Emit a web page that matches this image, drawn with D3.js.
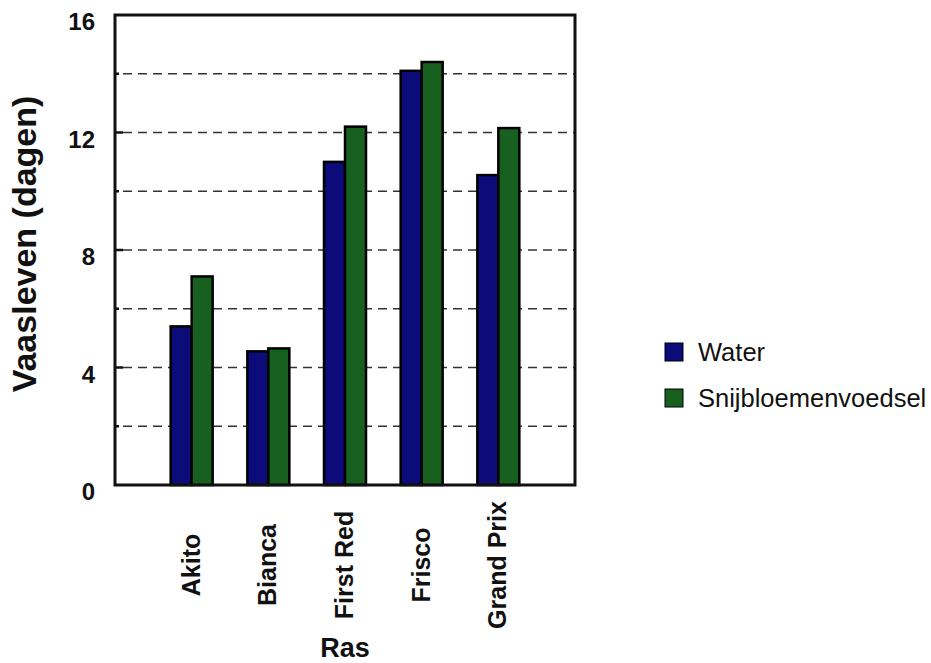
<!DOCTYPE html>
<html>
<head>
<meta charset="utf-8">
<script src="https://cdn.jsdelivr.net/npm/d3@7"></script>
<style>
  html, body { margin: 0; padding: 0; background: #fff; overflow: hidden; }
  svg { display: block; }
  text { font-family: "Liberation Sans", Arial, sans-serif; fill: #111; }
</style>
</head>
<body>
<div id="chart"></div>
<script>
// Data
const categories = ['Akito', 'Bianca', 'First Red', 'Frisco', 'Grand Prix'];
const seriesNames = ['Water', 'Snijbloemenvoedsel'];
const water = [5.4, 4.55, 11.0, 14.1, 10.55];
const voedsel = [7.1, 4.65, 12.2, 14.4, 12.15];
const yTickLabels = [0, 4, 8, 12, 16];
const gridValues = [2, 4, 6, 8, 10, 12, 14];

const colors = ['#0b0b7a', '#17601f'];

// Dimensions
const width = 931;
const height = 663;
const margin = { top: 15, right: 356, bottom: 178, left: 115 };
const innerWidth = width - margin.left - margin.right;
const innerHeight = height - margin.top - margin.bottom;

const svg = d3.select('#chart')
    .append('svg')
    .attr('width', width)
    .attr('height', height);

const chart = svg.append('g')
    .attr('transform', `translate(${margin.left}, ${margin.top})`);

// Scales
const xScale = d3.scalePoint()
    .domain(categories)
    .range([0, innerWidth])
    .padding(1);

const yScale = d3.scaleLinear()
    .domain([0, 16])
    .range([innerHeight, 0]);

const barWidth = 21;

// Dashed gridlines
chart.selectAll('.grid')
    .data(gridValues)
    .enter()
    .append('line')
    .attr('class', 'grid')
    .attr('x1', 8)
    .attr('x2', innerWidth)
    .attr('y1', d => yScale(d))
    .attr('y2', d => yScale(d))
    .attr('stroke', '#333')
    .attr('stroke-width', 1.5)
    .attr('stroke-dasharray', '9,6');

// Small inner tick marks
chart.selectAll('.tick-mark')
    .data(gridValues)
    .enter()
    .append('line')
    .attr('class', 'tick-mark')
    .attr('x1', 0)
    .attr('x2', d => d % 4 === 0 ? 8 : 4)
    .attr('y1', d => yScale(d))
    .attr('y2', d => yScale(d))
    .attr('stroke', '#111')
    .attr('stroke-width', 2.5);

// Bars
const rows = categories.map((c, i) => ({ cat: c, values: [water[i], voedsel[i]] }));

const groups = chart.selectAll('.group')
    .data(rows)
    .enter()
    .append('g')
    .attr('class', 'group');

groups.selectAll('rect')
    .data(d => d.values.map((v, j) => ({ cat: d.cat, v: v, j: j })))
    .enter()
    .append('rect')
    .attr('x', d => xScale(d.cat) - barWidth + d.j * barWidth)
    .attr('y', d => yScale(d.v))
    .attr('width', barWidth)
    .attr('height', d => innerHeight - yScale(d.v))
    .attr('fill', d => colors[d.j])
    .attr('stroke', '#000')
    .attr('stroke-width', 2.5);

// Frame
chart.append('rect')
    .attr('x', 0)
    .attr('y', 0)
    .attr('width', innerWidth)
    .attr('height', innerHeight)
    .attr('fill', 'none')
    .attr('stroke', '#111')
    .attr('stroke-width', 3);

// Y tick labels
chart.selectAll('.y-label-tick')
    .data(yTickLabels)
    .enter()
    .append('text')
    .attr('class', 'y-label-tick')
    .attr('x', -20)
    .attr('y', d => yScale(d) + 15)
    .style('text-anchor', 'end')
    .style('font-weight', 'bold')
    .style('font-size', '24px')
    .text(d => d);

// X category labels (rotated)
chart.selectAll('.x-label-tick')
    .data(categories)
    .enter()
    .append('text')
    .attr('class', 'x-label-tick')
    .attr('transform', d => `translate(${xScale(d) + 8}, ${innerHeight + 80}) rotate(-90)`)
    .style('text-anchor', 'middle')
    .style('font-weight', 'bold')
    .style('font-size', '25px')
    .text(d => d);

// Axis titles
svg.append('text')
    .attr('transform', `translate(36, 244) rotate(-90)`)
    .style('text-anchor', 'middle')
    .style('font-weight', 'bold')
    .style('font-size', '34px')
    .text('Vaasleven (dagen)');

svg.append('text')
    .attr('x', margin.left + innerWidth / 2)
    .attr('y', 657)
    .style('text-anchor', 'middle')
    .style('font-weight', 'bold')
    .style('font-size', '27px')
    .text('Ras');

// Legend
const legend = svg.append('g')
    .attr('transform', 'translate(665, 343)');

const items = legend.selectAll('.legend-item')
    .data(seriesNames)
    .enter()
    .append('g')
    .attr('class', 'legend-item')
    .attr('transform', (d, i) => `translate(0, ${i * 46})`);

items.append('rect')
    .attr('width', 18)
    .attr('height', 18)
    .attr('fill', (d, i) => colors[i])
    .attr('stroke', '#000')
    .attr('stroke-width', 1);

items.append('text')
    .attr('x', 33)
    .attr('y', 18)
    .style('font-size', '25.5px')
    .text(d => d);
</script>
</body>
</html>
